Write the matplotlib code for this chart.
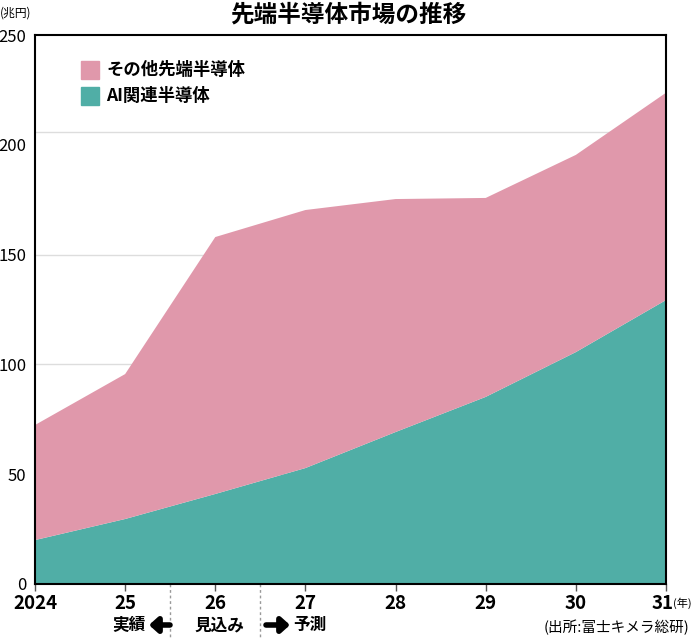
import matplotlib
matplotlib.use("Agg")
import matplotlib.pyplot as plt
import numpy as np

plt.rcParams['font.family'] = ['Noto Sans CJK JP', 'DejaVu Sans']

years = ["2024", "25", "26", "27", "28", "29", "30", "31"]
ai_semis = [20.0, 29.6, 41.0, 52.8, 69.2, 85.2, 105.6, 129.3]
total = [72.4, 95.6, 158.0, 170.3, 175.3, 175.8, 195.4, 223.7]
other_semis = [t - a for t, a in zip(total, ai_semis)]
yticks = [0, 50, 100, 150, 200, 250]
legend_labels = ["その他先端半導体", "AI関連半導体"]

pink = "#E098AB"
teal = "#50AEA6"

W, H = 691, 638
fig = plt.figure(figsize=(W / 100, H / 100), dpi=100)
ax = fig.add_axes([35 / W, (H - 584) / H, (666 - 35) / W, (584 - 35) / H])

x = np.arange(len(years))
ax.stackplot(x, ai_semis, other_semis, colors=[teal, pink], linewidth=0, zorder=2)

ax.set_xlim(0, len(years) - 1)
ax.set_ylim(0, 250)
for g in [50, 100, 150, 206]:
    ax.axhline(g, color="#dddddd", lw=1.0, zorder=1)

ax.set_yticks(yticks)
ax.set_yticklabels([str(v) for v in yticks], fontsize=12)
ax.tick_params(axis="y", length=0, pad=6)
ax.set_xticks(x)
labels = ax.set_xticklabels(years, fontsize=13.5, fontweight="bold")
labels[-1].set_horizontalalignment("right")
labels[-1].set_x(0)
ax.tick_params(axis="x", length=5, width=1, color="#555555", pad=2)
# nudge last label so it does not collide with the unit
import matplotlib.transforms as mtrans
labels[-1].set_transform(labels[-1].get_transform() +
                         mtrans.ScaledTranslation(8 / 100, 0, fig.dpi_scale_trans))

for s in ax.spines.values():
    s.set_color("black")
    s.set_linewidth(1.5)

# dashed separators below axis
for xv in [1.5, 2.5]:
    ax.plot([xv, xv], [0, -24], transform=ax.transData, color="#999999",
            lw=1, ls=(0, (2, 2)), clip_on=False)

# title & unit
fig.text(348 / W, 1 - 15 / H, "先端半導体市場の推移", ha="center", va="center",
         fontsize=17, fontweight="bold")
fig.text(0 / W, 1 - 13 / H, "(兆円)", ha="left", va="center", fontsize=8.5)
fig.text(673 / W, 1 - 603 / H, "(年)", ha="left", va="center", fontsize=8)

# legend
for i, (lab, col) in enumerate(zip(legend_labels, [pink, teal])):
    yc = 70 + 26 * i
    fig.patches.append(plt.Rectangle((81 / W, 1 - (yc + 9) / H), 18 / W, 18 / H,
                                     transform=fig.transFigure, color=col))
    fig.text(106 / W, 1 - yc / H, lab, ha="left", va="center",
             fontsize=12.5, fontweight="bold")

# bottom annotations
yb = 1 - 625 / H
fig.text(146 / W, yb, "実績", ha="right", va="center", fontsize=12, fontweight="bold")
fig.text(219 / W, yb, "見込み", ha="center", va="center", fontsize=12, fontweight="bold")
fig.text(293 / W, yb, "予測", ha="left", va="center", fontsize=12, fontweight="bold")
ax.annotate("", xy=(149, 13), xytext=(170, 13), xycoords="figure pixels",
            textcoords="figure pixels",
            arrowprops=dict(arrowstyle="-|>,head_width=0.45,head_length=0.5",
                            color="black", lw=4, shrinkA=0, shrinkB=0))
ax.annotate("", xy=(290, 13), xytext=(266, 13), xycoords="figure pixels",
            textcoords="figure pixels",
            arrowprops=dict(arrowstyle="-|>,head_width=0.45,head_length=0.5",
                            color="black", lw=4, shrinkA=0, shrinkB=0))
fig.text(689 / W, 1 - 627 / H, "(出所:富士キメラ総研)", ha="right", va="center",
         fontsize=10.5)

fig.savefig("out.png", dpi=100)
